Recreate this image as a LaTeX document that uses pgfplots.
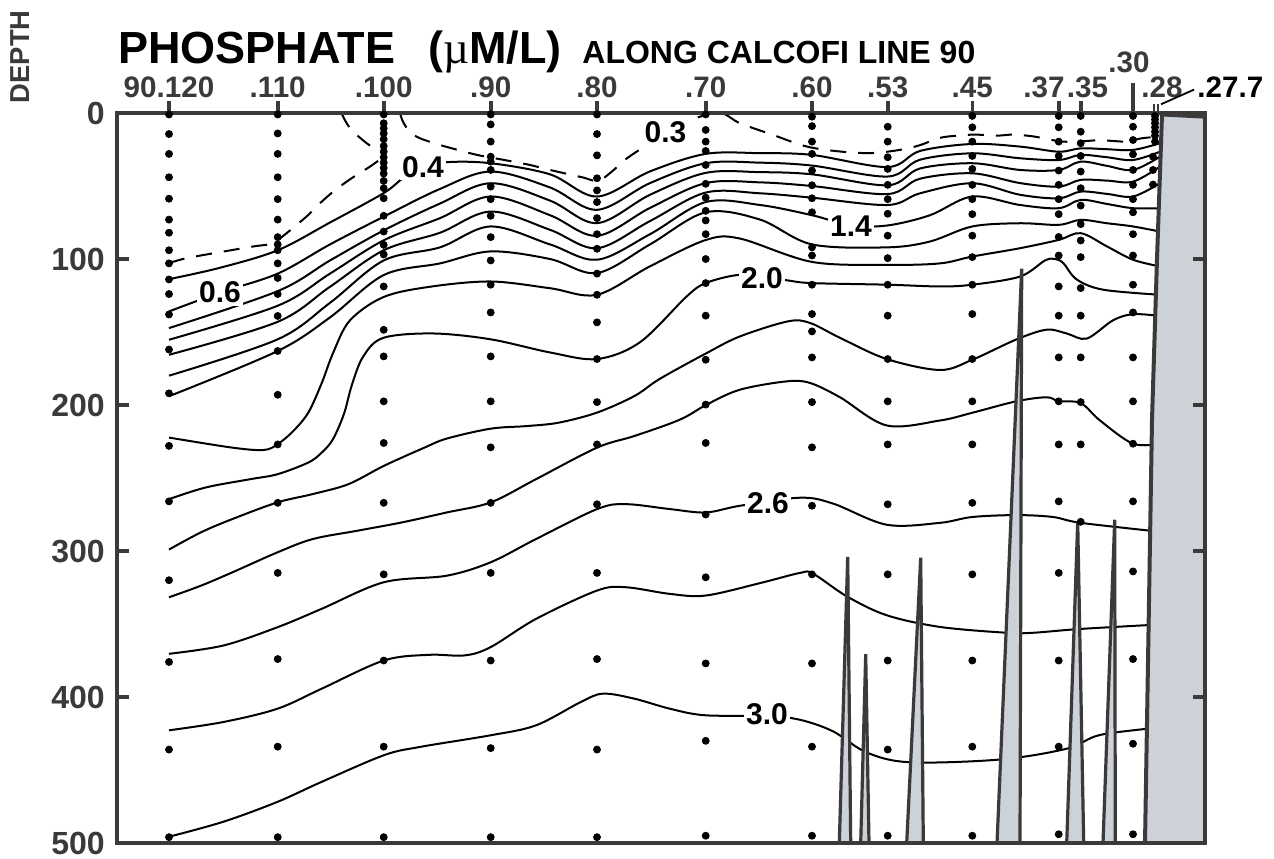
\documentclass[border=0pt]{standalone}
\usepackage{fontspec}
\setmainfont{Liberation Sans}
\newfontfamily\serifmu{Liberation Serif}
\usepackage{pgfplots}
\pgfplotsset{compat=1.18}
\definecolor{axg}{HTML}{3A3A3A}
\definecolor{lab}{HTML}{3A3A3A}
\definecolor{land}{HTML}{CDD1D8}
\pgfplotsset{
 cl/.style={black, line width=1pt, smooth, tension=0.55, mark=none},
 dl/.style={black, line width=1pt, smooth, tension=0.55, mark=none, dash pattern=on 8pt off 6pt},
 sp/.style={fill=land, draw=axg, line width=1.6pt, mark=none, line join=miter},
}
\tikzset{
 clab/.style={fill=white, inner sep=1.2pt, font=\bfseries\fontsize{15}{15}\selectfont},
 stl/.style={anchor=base, font=\bfseries\fontsize{14.8}{14.8}\selectfont, text=lab, inner sep=0pt},
}
\pgfplotstableread{
x y
169 1
169 14.4
169 28
169 44
169 58.7
169 73
169 82
169 94
169 103
169 114
169 124
169 138
169 162
169 192
169 228
169 266
169 320
169 376
169 436
169 496
277.7 1
277.7 14
277.7 28
277.7 44
277.7 59
277.7 73
277.7 85
277.7 90
277.7 94
277.7 103
277.7 113
277.7 124
277.7 139
277.7 163
277.7 193
277.7 227
277.7 267
277.7 315
277.7 374
277.7 434
277.7 496
383.7 1
383.7 7
383.7 10.5
383.7 14
383.7 18
383.7 22.6
383.7 26.5
383.7 30.3
383.7 34
383.7 37.6
383.7 41.5
383.7 46.5
383.7 51.5
383.7 58.4
383.7 70.4
383.7 81.2
383.7 90.3
383.7 96.9
383.7 118.8
383.7 148.5
383.7 166.7
383.7 197.5
383.7 226
383.7 267
383.7 316
383.7 375
383.7 434
383.7 496
490.7 1
490.7 7.8
490.7 19.6
490.7 29.9
490.7 33.3
490.7 39
490.7 50.4
490.7 59
490.7 70.4
490.7 85
490.7 101
490.7 117.6
490.7 136.6
490.7 166.7
490.7 197.5
490.7 229
490.7 267
490.7 315
490.7 375
490.7 435
490.7 496
597 1
597 14.4
597 29
597 44.7
597 53
597 61
597 72
597 83
597 93
597 110
597 124.5
597 143.4
597 168.5
597 198
597 227
597 268
597 315
597 374
597 436
597 496
705.7 1
705.7 11.6
705.7 19.6
705.7 26
705.7 35.6
705.7 48.5
705.7 58
705.7 67
705.7 73.6
705.7 83
705.7 100
705.7 116.5
705.7 138.8
705.7 169
705.7 199.7
705.7 226
705.7 275
705.7 318
705.7 377
705.7 430
705.7 495
812 2.5
812 9
812 19.6
812 28
812 39.4
812 49.5
812 58.4
812 68
812 92
812 97.6
812 117.6
812 137.7
812 149.6
812 167.4
812 198
812 229
812 269
812 316
812 377
812 434
812 495
887.7 9.4
887.7 19.6
887.7 30.3
887.7 38.3
887.7 49.2
887.7 59
887.7 69
887.7 84
887.7 99.4
887.7 117.6
887.7 138.8
887.7 168.5
887.7 197.5
887.7 227
887.7 268
887.7 316
887.7 375
887.7 436
887.7 495
972.3 2
972.3 9.8
972.3 19.6
972.3 29.4
972.3 38.3
972.3 49.2
972.3 59
972.3 69.3
972.3 84
972.3 98.7
972.3 117.6
972.3 137.7
972.3 168.5
972.3 197.5
972.3 227
972.3 267
972.3 316
972.3 375
972.3 434
972.3 495
1058.7 2
1058.7 9.8
1058.7 19.6
1058.7 29.4
1058.7 39.4
1058.7 49.2
1058.7 59
1058.7 69.3
1058.7 84.9
1058.7 97.6
1058.7 118.8
1058.7 138.8
1058.7 167.4
1058.7 197.5
1058.7 227
1058.7 266
1058.7 315
1058.7 375
1058.7 434
1058.7 494
1080.7 2
1080.7 12.8
1080.7 20.7
1080.7 29.4
1080.7 40.1
1080.7 51.5
1080.7 63.4
1080.7 76.1
1080.7 87.3
1080.7 98.7
1080.7 119.9
1080.7 138.8
1080.7 167.4
1080.7 198
1080.7 227
1080.7 280
1133 2
1133 9.4
1133 18.5
1133 28.3
1133 39
1133 49.2
1133 59
1133 68
1133 83
1133 97.6
1133 117.6
1133 136.6
1133 167.4
1133 197.5
1133 226.5
1133 266
1133 314
1133 374
1133 432
1133 494
1155 2
1155 4.5
1155 7
1155 9.8
1155 12.8
1155 15.5
1155 19.6
1153 29.9
1153 39
1153 49
}\dots
\begin{document}
\begin{tikzpicture}
\path[use as bounding box] (0,0) rectangle (637pt,429pt);
\begin{axis}[
 at={(58.5pt,7.5pt)}, anchor=south west,
 scale only axis, width=544pt, height=365pt,
 xmin=117, xmax=1205, ymin=0, ymax=500, y dir=reverse,
 clip=false, axis on top,
 axis line style={line width=2.2pt, draw=axg},
 xtick={169,277.7,383.7,490.7,597,705.7,812,887.7,972.3,1058.7,1080.7,1133},
 xticklabels={},
 xtick pos=right, xtick align=outside,
 ytick={0,100,200,300,400,500}, ytick pos=both, ytick align=inside,
 major tick length=6pt,
 every tick/.style={line width=1.8pt, draw=axg},
 /pgf/number format/assume math mode=true,
 yticklabel style={font=\bfseries\fontsize{16}{16}\selectfont, text=lab, xshift=-2.6pt},
]
% dashed 0.3 contour pieces
\addplot[dl] coordinates {(169,102.8) (186.7,99.4) (220,95.3) (253.3,91.4) (272,89.5) (281.7,85) (296.7,76.6) (308.3,69.8) (320,61.8) (333.3,53.8) (346.7,47) (356.7,42.4) (370,36.7) (381.7,31)};
\addplot[dl] coordinates {(341.5,0) (345,5) (352,12) (366.7,20.7) (374,24)};
\addplot[dl] coordinates {(400,0) (403,6) (410,13) (420,17.3) (440,21.9) (458,25.3) (477,28.7) (495,31) (513,33.3) (530,35.6) (550,39) (582,44) (598,46.5) (612,40) (625,32) (642,24) (665,13) (690,5) (712,0.3) (725,1) (740,7) (773,15) (807,23) (842,26.5) (873,27.4) (902,25) (920,22) (940,17) (958,15.5) (975,14.8) (997,15.5) (1013,14.8) (1033,16) (1052,18.5) (1063,19.6) (1077,19.6) (1090,19) (1100,18.5) (1110,19) (1128,19.6) (1140,17.5) (1160,16)};
% solid contours
\addplot[cl] coordinates {(169,113.8) (220,106) (277.7,94) (330,75) (383.3,55) (403,44.7) (423,38) (446.7,33.7) (490.7,34.4) (550,42) (597,57.2) (650,40) (705.7,28) (760,27.5) (812,28.7) (887.7,37) (920,26) (972.3,21.2) (1020,23) (1058.7,26.5) (1080.7,24.2) (1107,24.8) (1133,25.3) (1160,20.7)};
\addplot[cl] coordinates {(169,135.9) (220,123) (277.7,110) (330,90) (383.7,71) (440,52) (490.7,40.1) (550,51) (597,66.3) (650,48) (705.7,34.4) (760,34) (812,36) (887.7,43.5) (920,32) (972.3,27.6) (1020,31) (1058.7,32.2) (1080.7,28.7) (1107,30.3) (1133,32.2) (1160,26.5)};
\addplot[cl] coordinates {(169,147.3) (277.7,122) (330,101) (383.7,80.4) (440,62) (490.7,48.1) (550,60) (597,75.4) (650,56) (705.7,41) (760,40.5) (812,42) (887.7,49.5) (920,38) (972.3,34.4) (1020,39) (1058.7,39) (1080.7,33.3) (1107,36.2) (1133,39) (1160,29.9)};
\addplot[cl] coordinates {(169,155.3) (277.7,132) (330,110) (383.7,87.2) (440,72) (490.7,57.2) (550,70) (597,84.1) (650,65) (705.7,48) (760,47.5) (812,50) (887.7,55.5) (920,45) (972.3,41.3) (1020,48) (1058.7,50.4) (1080.7,45.8) (1107,46.3) (1133,47) (1160,36.7)};
\addplot[cl] coordinates {(169,165.6) (277.7,143) (330,119) (383.7,94) (440,82) (490.7,67.5) (550,80) (597,92.6) (650,74) (705.7,54.5) (760,55) (812,58) (887.7,63) (920,55) (972.3,48.1) (1020,56) (1058.7,58.4) (1080.7,53.8) (1107,55.4) (1133,57.2) (1160,48.1)};
\addplot[cl] coordinates {(169,179.9) (277.7,155) (330,130) (383.7,101) (440,92) (490.7,77.7) (550,90) (597,100.5) (650,83) (705.7,61) (760,63) (812,70) (851,77) (887.7,77) (930,70) (972.3,57.2) (1020,63) (1058.7,65.2) (1080.7,59.5) (1107,62.3) (1133,65.2) (1160,65.2)};
\addplot[cl] coordinates {(169,194) (277.7,163) (330,140) (383.7,111) (440,103) (490.7,94.8) (550,100) (597,109.6) (650,90) (705.7,68) (760,73) (812,90) (887.7,92) (930,88) (972.3,77.7) (1020,75.5) (1058.7,76.6) (1080.7,73.2) (1107,75.5) (1133,77.7) (1160,81.2)};
\addplot[cl] coordinates {(169,222.3) (232.4,229.2) (263.7,230.8) (277.5,226.9) (293,218) (308.3,205.2) (321.7,185) (333.3,164) (350,142) (383.7,126) (430,119) (490.7,115.4) (550,120) (597,124.5) (650,105) (705.7,87) (740,86) (812,102) (887.7,104) (940,103) (972.3,98.3) (1020,92.6) (1058.7,86.9) (1080.7,82.3) (1107,91.4) (1133,100.5) (1160,105.1)};
\addplot[cl] coordinates {(169,264.5) (205.6,256.5) (250.3,250.8) (277.5,247.4) (308.3,239.4) (321.7,232.6) (332.9,223.5) (344,206) (352,186) (363.3,166.7) (383.3,154) (433,151) (490.7,155) (550,164) (597,168.5) (640,157) (686.7,125.6) (705.7,116.5) (737,111) (762,112) (788,114.7) (812,116.5) (887.7,117.6) (940,118.8) (972.3,117.6) (1020,112) (1045,101) (1055,100) (1063.3,102.8) (1076.7,114) (1103,121) (1160,124.5)};
\addplot[cl] coordinates {(169,299) (201,287.2) (232.4,278.1) (277.5,266.7) (312.8,261) (348.5,254.2) (383.8,241.7) (424.4,229.2) (446.7,223) (490.7,216.2) (527.3,214.4) (558.6,212.1) (597,205.2) (634.5,193.8) (660,182) (706.7,164.4) (740,153) (788,142.7) (810,143.8) (840,154) (886.7,168.5) (940,176) (972.3,169) (1016.7,155) (1046.7,148.4) (1066.7,151) (1086.7,154.5) (1113,142) (1133,137.8) (1160,139)};
\addplot[cl] coordinates {(169,331.7) (201.1,323.7) (232.4,314.6) (277.5,300.9) (312.8,291.8) (357.4,286.1) (402,280.4) (446.7,273.6) (490.7,266.7) (536,250.8) (597,229.2) (634.5,221.2) (680,210) (706.7,199.7) (740,189.5) (786.7,183.8) (810,184.9) (840,194.7) (886.7,214) (940,210.6) (972.3,205.3) (1016.7,197.4) (1046.7,194.7) (1058.7,197.4) (1080.7,198.7) (1100,210.6) (1133,226.5) (1160,226.5)};
\addplot[cl] coordinates {(169,370.4) (223.5,364.7) (277.5,352.2) (321.7,339.6) (383.8,321.4) (446.7,316.9) (490.7,307.7) (536,291.8) (597,271.3) (625.6,267.9) (670.2,271.3) (705.7,273.6) (740,269) (800,263.5) (833,267.5) (886.7,282) (940,280.7) (972.3,276.7) (1016.7,275.4) (1053,276.7) (1080.7,280.7) (1160,286.8)};
\addplot[cl] coordinates {(169,422.8) (223.5,417.1) (277.5,408) (321.7,394.3) (383.8,375) (428.9,371.1) (464.6,371.5) (490.7,365.8) (536,346.5) (597,327.1) (625.6,324.8) (670.2,329.4) (705.7,330.5) (760,322) (800,315) (813,315.5) (846.7,331) (886.7,344) (940,352) (1006.7,356) (1033,356) (1080,353.4) (1160,350.3)};
\addplot[cl] coordinates {(169,495.7) (223.5,485.4) (277.5,471.8) (321.7,458.1) (383.8,439.9) (419.9,434.2) (490.7,426.2) (536,419.4) (580.6,403.5) (602.9,397.7) (634.1,401.1) (669.8,408) (705,412.5) (767,413) (800,415.6) (833,423.5) (866.7,438) (910,444.7) (1000,442.8) (1066.7,435.4) (1100,426) (1160,420.9)};
% contour labels
\node[clab] at (axis cs:665.5,13.4) {0.3};
\node[clab] at (axis cs:423,37) {0.4};
\node[clab] at (axis cs:220,123) {0.6};
\node[clab] at (axis cs:851,77.3) {1.4};
\node[clab] at (axis cs:762,113) {2.0};
\node[clab] at (axis cs:768,267) {2.6};
\node[clab] at (axis cs:767,412) {3.0};
% seamounts
\addplot[sp] coordinates {(839.3,500) (847.7,304) (850.7,500)} -- cycle;
\addplot[sp] coordinates {(860.7,500) (865.7,370.6) (869,500)} -- cycle;
\addplot[sp] coordinates {(906.7,500) (920.7,304.5) (923.3,500)} -- cycle;
\addplot[sp] coordinates {(997,500) (1021.7,106.6) (1020,500)} -- cycle;
\addplot[sp] coordinates {(1066.7,500) (1077.7,280) (1083.7,500)} -- cycle;
\addplot[sp] coordinates {(1103,500) (1114.7,278.6) (1115.3,500)} -- cycle;
% coast
\addplot[fill=land, draw=none, mark=none] coordinates {(1145,500) (1152,210) (1157,100) (1162,1) (1205,2.5) (1205,500)} -- cycle;
\addplot[axg, line width=2pt, mark=none] coordinates {(1145,500) (1152,210) (1157,100) (1162,1) (1205,2.5)};
% stations
\addplot[only marks, mark=*, mark size=1.75pt, black] table[x=x, y=y] {\dots};
% station labels
\node[stl] at (axis cs:169,-10.3) {90.120};
\node[stl] at (axis cs:277.7,-10.3) {.110};
\node[stl] at (axis cs:383.7,-10.3) {.100};
\node[stl] at (axis cs:490.7,-10.3) {.90};
\node[stl] at (axis cs:597,-10.3) {.80};
\node[stl] at (axis cs:705.7,-10.3) {.70};
\node[stl] at (axis cs:812,-10.3) {.60};
\node[stl] at (axis cs:887.7,-10.3) {.53};
\node[stl] at (axis cs:972.3,-10.3) {.45};
\node[stl] at (axis cs:1044,-10.3) {.37};
\node[stl] at (axis cs:1087.5,-10.3) {.35};
\node[stl] at (axis cs:1129,-28) {.30};
\node[stl] at (axis cs:1162,-10.3) {.28};
\node[stl, anchor=base west, text=black] at (axis cs:1197,-10.3) {.27.7};
\draw[axg, line width=1.8pt] (axis cs:1133,0) -- (axis cs:1133,-20.5);
\draw[axg, line width=0.9pt] (axis cs:1154,0) -- (axis cs:1154,-6);
\draw[axg, line width=0.9pt] (axis cs:1158,0) -- (axis cs:1158,-6);
\draw[black, line width=0.9pt] (axis cs:1161,-6) -- (axis cs:1194,-16);
% title
\node[anchor=base west, inner sep=0pt, font=\bfseries\fontsize{22.5}{22.5}\selectfont] at (axis cs:118,-34.2) {PHOSPHATE};
\node[anchor=base west, inner sep=0pt, font=\bfseries\fontsize{22.5}{22.5}\selectfont] at (axis cs:428,-34.2) {({\serifmu\mdseries µ}M/L)};
\node[anchor=base west, inner sep=0pt, font=\bfseries\fontsize{16}{16}\selectfont] at (axis cs:582,-34.2) {ALONG CALCOFI LINE 90};
\node[rotate=90, inner sep=0pt, font=\bfseries\fontsize{13.7}{13.7}\selectfont, text=lab] at (axis cs:20.5,-38.6) {DEPTH};
\end{axis}
\end{tikzpicture}
\end{document}
